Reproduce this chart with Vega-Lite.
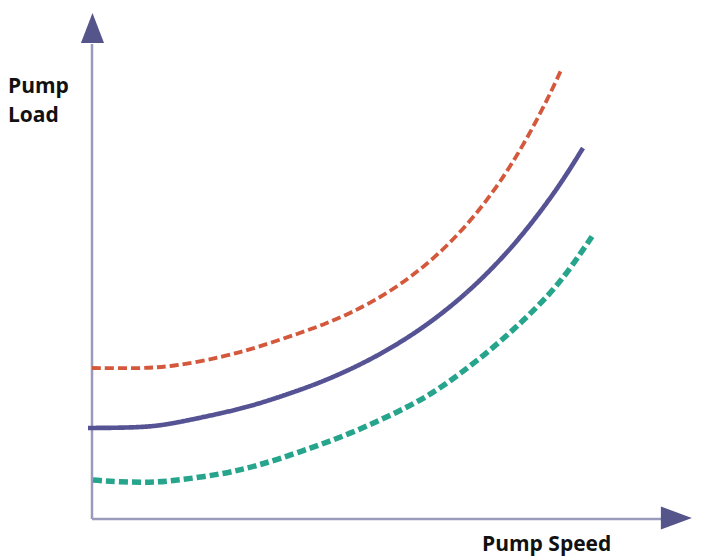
{
  "$schema": "https://vega.github.io/schema/vega-lite/v6.json",
  "width": 702,
  "height": 556,
  "autosize": {"type": "fit", "contains": "padding"},
  "padding": 0,
  "background": "white",
  "config": {"view": {"stroke": null}},
  "datasets": {
    "curves": [
      {"series": "high", "x": 0, "y": 30.2},
      {"series": "high", "x": 8, "y": 30.1},
      {"series": "high", "x": 13.5, "y": 30.5},
      {"series": "high", "x": 21.83, "y": 32.4},
      {"series": "high", "x": 27.5, "y": 34.3},
      {"series": "high", "x": 34.67, "y": 37.2},
      {"series": "high", "x": 38.83, "y": 38.98},
      {"series": "high", "x": 43, "y": 41.14},
      {"series": "high", "x": 47.17, "y": 43.72},
      {"series": "high", "x": 51.33, "y": 46.86},
      {"series": "high", "x": 55.5, "y": 50.62},
      {"series": "high", "x": 59.67, "y": 55.18},
      {"series": "high", "x": 63.83, "y": 60.66},
      {"series": "high", "x": 68, "y": 67.28},
      {"series": "high", "x": 72.17, "y": 75.26},
      {"series": "high", "x": 76.33, "y": 84.9},
      {"series": "high", "x": 78.33, "y": 90.2},
      {"series": "mid", "x": -0.67, "y": 18.2},
      {"series": "mid", "x": 4.67, "y": 18.24},
      {"series": "mid", "x": 9.67, "y": 18.44},
      {"series": "mid", "x": 13.5, "y": 19.1},
      {"series": "mid", "x": 21.83, "y": 21.2},
      {"series": "mid", "x": 27.5, "y": 22.9},
      {"series": "mid", "x": 34.67, "y": 25.8},
      {"series": "mid", "x": 38.83, "y": 27.7},
      {"series": "mid", "x": 43, "y": 29.9},
      {"series": "mid", "x": 47.17, "y": 32.4},
      {"series": "mid", "x": 51.33, "y": 35.28},
      {"series": "mid", "x": 55.5, "y": 38.58},
      {"series": "mid", "x": 59.67, "y": 42.38},
      {"series": "mid", "x": 63.83, "y": 46.72},
      {"series": "mid", "x": 68, "y": 51.72},
      {"series": "mid", "x": 72.17, "y": 57.46},
      {"series": "mid", "x": 76.33, "y": 64.02},
      {"series": "mid", "x": 79.17, "y": 69.04},
      {"series": "mid", "x": 81.83, "y": 74.2},
      {"series": "low", "x": 0.17, "y": 7.8},
      {"series": "low", "x": 4.67, "y": 7.4},
      {"series": "low", "x": 9.67, "y": 7.3},
      {"series": "low", "x": 13.5, "y": 7.6},
      {"series": "low", "x": 21.83, "y": 9.0},
      {"series": "low", "x": 27.5, "y": 10.6},
      {"series": "low", "x": 34.67, "y": 13.4},
      {"series": "low", "x": 43, "y": 17.0},
      {"series": "low", "x": 51.33, "y": 21.6},
      {"series": "low", "x": 56.33, "y": 24.8},
      {"series": "low", "x": 61.33, "y": 29.0},
      {"series": "low", "x": 66.83, "y": 34.2},
      {"series": "low", "x": 71.83, "y": 39.6},
      {"series": "low", "x": 76.33, "y": 45.0},
      {"series": "low", "x": 79.67, "y": 50.0},
      {"series": "low", "x": 83.5, "y": 56.8}
    ],
    "axes": [
      {"axis": "x", "x": 0, "y": 0, "x2": 95, "y2": 0},
      {"axis": "y", "x": 0, "y": 0, "x2": 0, "y2": 95}
    ],
    "arrows": [
      {"dir": "up", "x": 0.08, "y": 98.2},
      {"dir": "right", "x": 97.4, "y": 0.2}
    ],
    "labels": [
      {"label": "Pump", "x": -14, "y": 85.2},
      {"label": "Load", "x": -14, "y": 79.4},
      {"label": "Pump Speed", "x": 65.0, "y": -6.4}
    ]
  },
  "layer": [
    {
      "data": {"name": "axes"},
      "mark": {"type": "rule", "color": "#9a9abc", "strokeWidth": 2.5},
      "encoding": {
        "x": {"field": "x", "type": "quantitative", "axis": null, "scale": {"domain": [-15.3333, 101.6667], "nice": false, "zero": false}},
        "y": {"field": "y", "type": "quantitative", "axis": null, "scale": {"domain": [-7.4, 103.8], "nice": false, "zero": false}},
        "x2": {"field": "x2"},
        "y2": {"field": "y2"}
      }
    },
    {
      "data": {"name": "arrows"},
      "transform": [{"filter": "datum.dir === 'up'"}],
      "mark": {"type": "point", "shape": "M-0.77,1L0,-1L0.77,1Z", "filled": true, "color": "#55558c", "size": 900, "opacity": 1},
      "encoding": {
        "x": {"field": "x", "type": "quantitative"},
        "y": {"field": "y", "type": "quantitative"}
      }
    },
    {
      "data": {"name": "arrows"},
      "transform": [{"filter": "datum.dir === 'right'"}],
      "mark": {"type": "point", "shape": "M-1,-0.74L1,0L-1,0.74Z", "filled": true, "color": "#55558c", "size": 961, "opacity": 1},
      "encoding": {
        "x": {"field": "x", "type": "quantitative"},
        "y": {"field": "y", "type": "quantitative"}
      }
    },
    {
      "data": {"name": "curves"},
      "mark": {"type": "line", "interpolate": "basis", "strokeCap": "butt"},
      "encoding": {
        "x": {"field": "x", "type": "quantitative"},
        "y": {"field": "y", "type": "quantitative"},
        "color": {"field": "series", "type": "nominal", "legend": null, "scale": {"domain": ["high", "mid", "low"], "range": ["#d4583c", "#565394", "#27a58c"]}},
        "strokeDash": {"field": "series", "type": "nominal", "legend": null, "scale": {"domain": ["high", "mid", "low"], "range": [[9, 4], [1, 0], [9, 4]]}},
        "strokeWidth": {"field": "series", "type": "nominal", "legend": null, "scale": {"domain": ["high", "mid", "low"], "range": [3.8, 5.5, 3.8]}}
      }
    },
    {
      "data": {"name": "labels"},
      "mark": {"type": "text", "align": "left", "baseline": "alphabetic", "font": "Open Sans", "fontWeight": "bold", "fontSize": 21, "color": "#111111"},
      "encoding": {
        "x": {"field": "x", "type": "quantitative"},
        "y": {"field": "y", "type": "quantitative"},
        "text": {"field": "label"}
      }
    }
  ]
}
